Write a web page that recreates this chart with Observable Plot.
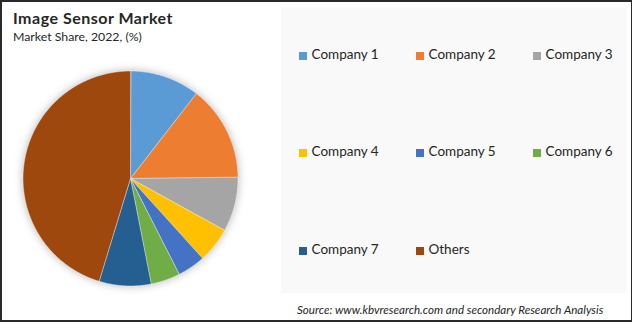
<!DOCTYPE html>
<html>
<head>
<meta charset="utf-8">
<script src="https://cdn.jsdelivr.net/npm/d3@7"></script>
<script src="https://cdn.jsdelivr.net/npm/@observablehq/plot@0.6"></script>
<style>
  html, body { margin: 0; padding: 0; background: #fff; }
  #wrap { position: relative; width: 632px; height: 322px; overflow: hidden; background: #fff; font-family: Lato, "Open Sans", sans-serif; color: #262626; }
  #frame { position: absolute; left: 0; top: 0; width: 632px; height: 322px; box-sizing: border-box; border: 2px solid #2a2a2a; border-right-width: 1.5px; pointer-events: none; }
  #panel { position: absolute; left: 281px; top: 7px; width: 345px; height: 286px; background: #f9f9f9; }
  .title { position: absolute; left: 13px; top: 10.2px; font-size: 16px; line-height: 16px; font-weight: 700; letter-spacing: 0.5px; white-space: nowrap; }
  .subtitle { position: absolute; left: 13px; top: 31.2px; font-size: 12.3px; line-height: 12.3px; white-space: nowrap; }
  #pie { position: absolute; left: 10px; top: 58px; }
  .leg { position: absolute; font-size: 13.5px; line-height: 13.5px; white-space: nowrap; }
  .sw { position: absolute; width: 8px; height: 8px; }
  .source { position: absolute; left: 297px; top: 304px; font-size: 11.6px; line-height: 12px; font-style: italic; white-space: nowrap; }
  svg.pie g[aria-label="geo"] { filter: drop-shadow(0px 0px 4px rgba(0,0,0,0.28)); }
</style>
</head>
<body>
<div id="wrap">
  <div id="panel"></div>
  <div class="title">Image Sensor Market</div>
  <div class="subtitle">Market Share, 2022, (%)</div>
  <div id="pie"></div>
  <div id="legend"></div>
  <div class="source">Source: www.kbvresearch.com and secondary Research Analysis</div>
  <div id="frame"></div>
</div>
<script>
const companies = ["Company 1", "Company 2", "Company 3", "Company 4", "Company 5", "Company 6", "Company 7", "Others"];
const shares = [10.5, 14.3, 8.2, 5.3, 4.2, 4.4, 7.8, 45.3];
const colors = ["#5B9BD5", "#ED7D31", "#A5A5A5", "#FFC000", "#4472C4", "#70AD47", "#255E91", "#9E480E"];

// build slice polygons from d3.pie angles (unit circle, 0 = 12 o'clock, clockwise)
const arcs = d3.pie().sort(null).value(d => d)(shares);
const pt = a => [Math.sin(a), -Math.cos(a)];
const features = arcs.map((a, i) => {
  const n = Math.max(2, Math.ceil((a.endAngle - a.startAngle) / (Math.PI / 360)));
  const ring = [[0, 0]];
  for (let k = 0; k <= n; k++) ring.push(pt(a.startAngle + (a.endAngle - a.startAngle) * k / n));
  ring.push([0, 0]);
  return {type: "Feature", properties: {name: companies[i], value: shares[i]}, geometry: {type: "Polygon", coordinates: [ring]}};
});
const circleRing = d3.range(0, 721).map(k => pt(k * Math.PI / 360));
const outline = {type: "Feature", geometry: {type: "Polygon", coordinates: [circleRing]}};

const chart = Plot.plot({
  width: 240,
  height: 240,
  margin: 0,
  className: "pie",
  style: {background: "transparent", overflow: "visible"},
  projection: {type: "identity", domain: outline, inset: 12.5},
  color: {domain: companies, range: colors},
  marks: [
    Plot.geo(features, {fill: d => d.properties.name, stroke: "#ffffff", strokeWidth: 0.6, strokeOpacity: 0.7})
  ]
});
document.getElementById("pie").appendChild(chart);

// legend
const legend = document.getElementById("legend");
const colX = [299, 416, 533];
const rowBase = [60, 157.3, 255];
companies.forEach((name, i) => {
  const c = i % 3, r = Math.floor(i / 3);
  const sw = document.createElement("div");
  sw.className = "sw";
  sw.style.left = colX[c] + "px";
  sw.style.top = (rowBase[r] - 8.3) + "px";
  sw.style.background = colors[i];
  legend.appendChild(sw);
  const t = document.createElement("div");
  t.className = "leg";
  t.style.left = (colX[c] + 12.5) + "px";
  t.style.top = (rowBase[r] - 12) + "px";
  t.textContent = name;
  legend.appendChild(t);
});
</script>
</body>
</html>
